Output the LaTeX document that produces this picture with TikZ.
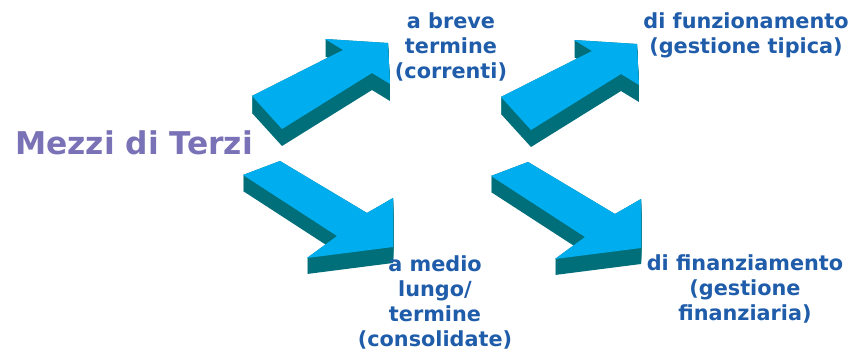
\documentclass[tikz,border=0pt]{standalone}
\usepackage{fontspec}
\setmainfont{DejaVu Sans}
\usetikzlibrary{positioning}
\definecolor{arrowtop}{HTML}{00AEEF}
\definecolor{arrowside}{HTML}{006F7A}
\definecolor{labelblue}{HTML}{1F5CA9}
\definecolor{titlepurple}{HTML}{7A72B7}

\begin{document}
\begin{tikzpicture}[x=0.75pt, y=-0.75pt,
    every node/.style={font=\bfseries\fontsize{15.6}{18.75}\selectfont, text=labelblue, align=center, inner sep=0pt},
    top face/.style={fill=arrowtop},
    side face/.style={fill=arrowside}]
    \useasboundingbox (0,0) rectangle (858,356);

    % Arrows pointing up-right (extruded downwards)
    \foreach \dx/\dy in {0/0, 249/1} {
        \foreach \d in {0,...,17} {
            \fill[side face, shift={(\dx,\dy+\d)}] (252,96) -- (282,129) -- (372,73) -- (390,84) -- (388,43) -- (325,39) -- (343,50) -- cycle;
        }
        \fill[top face, shift={(\dx,\dy)}] (252,96) -- (282,129) -- (372,73) -- (390,84) -- (388,43) -- (325,39) -- (343,50) -- cycle;
    }

    % Arrows pointing down-right
    \foreach \dx/\dy in {0/0, 248/1} {
        \foreach \d in {0,...,16} {
            \fill[side face, shift={(\dx,\dy+\d)}] (243,175) -- (280,161) -- (367,213) -- (393,198) -- (393,247) -- (307,258) -- (337,236) -- cycle;
        }
        \fill[top face, shift={(\dx,\dy)}] (243,175) -- (280,161) -- (367,213) -- (393,198) -- (393,247) -- (307,258) -- (337,236) -- cycle;
    }

    % Labels
    \node[font=\bfseries\fontsize{23.5}{28}\selectfont, text=titlepurple] (mezzi) at (134,143) {Mezzi di Terzi};
    \node (breve) at (451,47) {a breve\\termine\\(correnti)};
    \node (funz) at (746,35) {di funzionamento\\(gestione tipica)};
    \node (medio) at (435,302) {a medio\\lungo/\\termine\\(consolidate)};
    \node (finanz) at (745,289) {di finanziamento\\(gestione\\finanziaria)};
\end{tikzpicture}
\end{document}
